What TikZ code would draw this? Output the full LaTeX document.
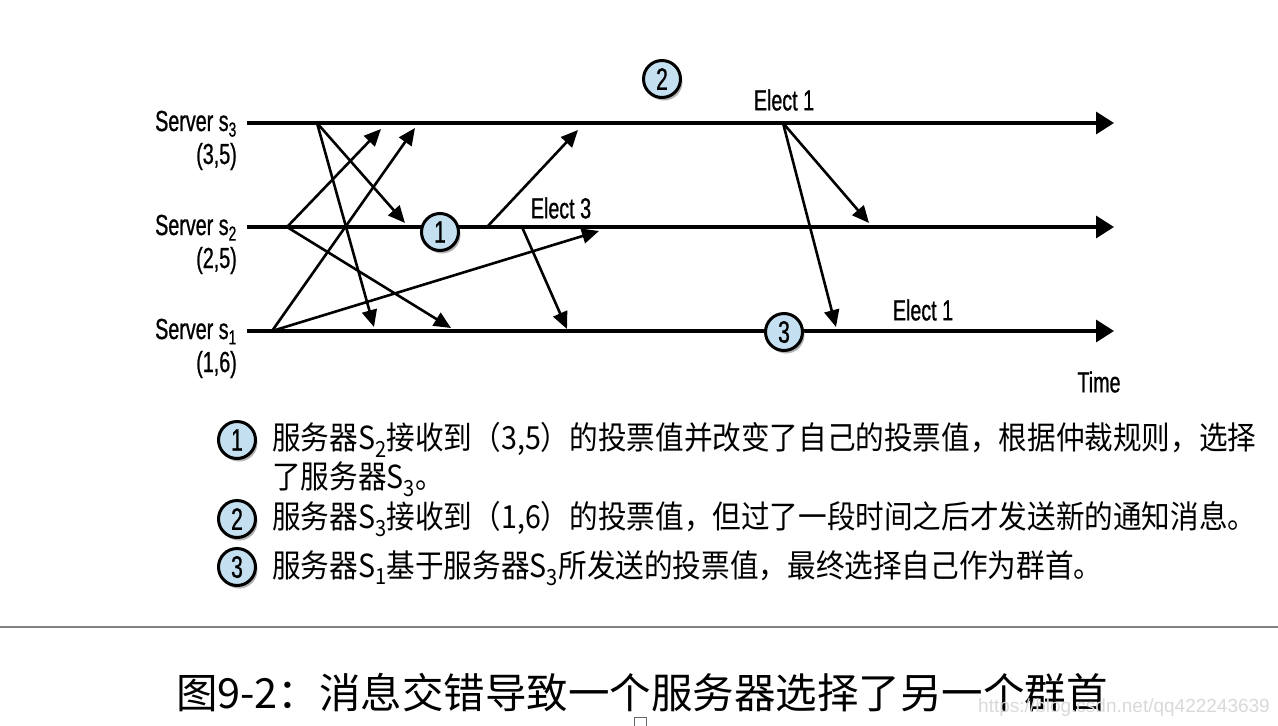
\documentclass[tikz,border=0pt]{standalone}
\usepackage{fontspec}
\usetikzlibrary{arrows.meta,shadows}
\newfontfamily\cond[FakeStretch=0.68,FakeBold=0.8]{Liberation Sans}
\newfontfamily\cjk[FakeStretch=0.9]{Noto Sans CJK SC}
\newfontfamily\cjkcap{Noto Sans CJK SC}
\definecolor{circblue}{HTML}{C4DFF0}
\tikzset{
  tl/.style={line width=3.4pt,-{Triangle[length=18pt,width=22pt]}},
  msg/.style={line width=2.6pt,-{Triangle[length=17pt,width=15pt]}},
  num/.style={circle,draw=black,line width=3pt,fill=circblue,minimum size=37pt,inner sep=0pt,
    font=\cond\fontsize{31}{32}\selectfont,
    general shadow={shadow xshift=2pt,shadow yshift=-3pt,fill=black!30}},
  lbl/.style={font=\cond\fontsize{29}{30}\selectfont,inner sep=0pt},
  legend/.style={font=\cjk\fontsize{31.8}{34}\selectfont,inner sep=0pt,anchor=west},
}
\begin{document}
\begin{tikzpicture}[x=1pt,y=-1pt]
\useasboundingbox (0,0) rectangle (1278,726);
\fill[white] (0,0) rectangle (1278,726);
% time lines
\coordinate (L3a) at (247,123); \coordinate (L3b) at (1114,123);
\coordinate (L2a) at (247,227); \coordinate (L2b) at (1114,227);
\coordinate (L1a) at (247,331); \coordinate (L1b) at (1114,331);
\draw[tl] (L3a) -- (L3b);
\draw[tl] (L2a) -- (L2b);
\draw[tl] (L1a) -- (L1b);
% server labels
\node[lbl,anchor=base east] (sv3) at (237,131) {Server s\textsubscript{3}};
\node[lbl,anchor=base east] (v3) at (237,164) {(3,5)};
\node[lbl,anchor=base east] (sv2) at (237,235) {Server s\textsubscript{2}};
\node[lbl,anchor=base east] (v2) at (237,268) {(2,5)};
\node[lbl,anchor=base east] (sv1) at (237,339) {Server s\textsubscript{1}};
\node[lbl,anchor=base east] (v1) at (237,372) {(1,6)};
\node[lbl] (time) at (1099,382) {Time};
% message endpoints
\coordinate (a3) at (317,123);
\coordinate (a3to1) at (374,327);
\coordinate (a3to2) at (405,223);
\coordinate (a2) at (287,227);
\coordinate (a2to3) at (381,129);
\coordinate (a2to1) at (451,328);
\coordinate (a1) at (272,331);
\coordinate (a1to3) at (415,128);
\coordinate (a1to2) at (599,231);
\coordinate (b2) at (487,227);
\coordinate (b2to3) at (578,130);
\coordinate (c2) at (522,227);
\coordinate (c2to1) at (567,329);
\coordinate (d3) at (783,123);
\coordinate (d3to2) at (869,223);
\coordinate (d3to1) at (836,327);
\draw[msg] (a3) -- (a3to1);
\draw[msg] (a3) -- (a3to2);
\draw[msg] (a2) -- (a2to3);
\draw[msg] (a2) -- (a2to1);
\draw[msg] (a1) -- (a1to3);
\draw[msg] (a1) -- (a1to2);
\draw[msg] (b2) -- (b2to3);
\draw[msg] (c2) -- (c2to1);
\draw[msg] (d3) -- (d3to2);
\draw[msg] (d3) -- (d3to1);
% labels
\node[lbl] (e3) at (561,208) {Elect 3};
\node[lbl] (e1a) at (784,100) {Elect 1};
\node[lbl] (e1b) at (923,310) {Elect 1};
% numbered circles
\node[num] (n1) at (440,232) {1};
\node[num] (n2) at (662,79) {2};
\node[num] (n3) at (784,332) {3};
% legend
\node[num] (g1) at (237,440) {1};
\node[num] (g2) at (237,519) {2};
\node[num] (g3) at (237,567) {3};
\node[legend] (t1) at (272,440) {服务器S\textsubscript{2}接收到（3,5）的投票值并改变了自己的投票值，根据仲裁规则，选择};
\node[legend] (t1b) at (272,479) {了服务器S\textsubscript{3}。};
\node[legend] (t2) at (272,519) {服务器S\textsubscript{3}接收到（1,6）的投票值，但过了一段时间之后才发送新的通知消息。};
\node[legend] (t3) at (272,568) {服务器S\textsubscript{1}基于服务器S\textsubscript{3}所发送的投票值，最终选择自己作为群首。};
% rule
\coordinate (r0) at (0,627); \coordinate (r1) at (1278,627);
\draw[line width=2.5pt,black!50] (r0) -- (r1);
% caption
\node[font=\cjkcap\fontsize{41.5}{44}\selectfont,inner sep=0pt] (cap) at (642,693) {图9-2：消息交错导致一个服务器选择了另一个群首};
\node[font=\fontspec{Liberation Sans}\fontsize{19}{21}\selectfont,text=black!15,anchor=east,inner sep=0pt] (wm) at (1270,708) {https://blog.csdn.net/qq422243639};
\draw[black!60,line width=1pt] (634,717) rectangle (646,729);
\end{tikzpicture}
\end{document}
